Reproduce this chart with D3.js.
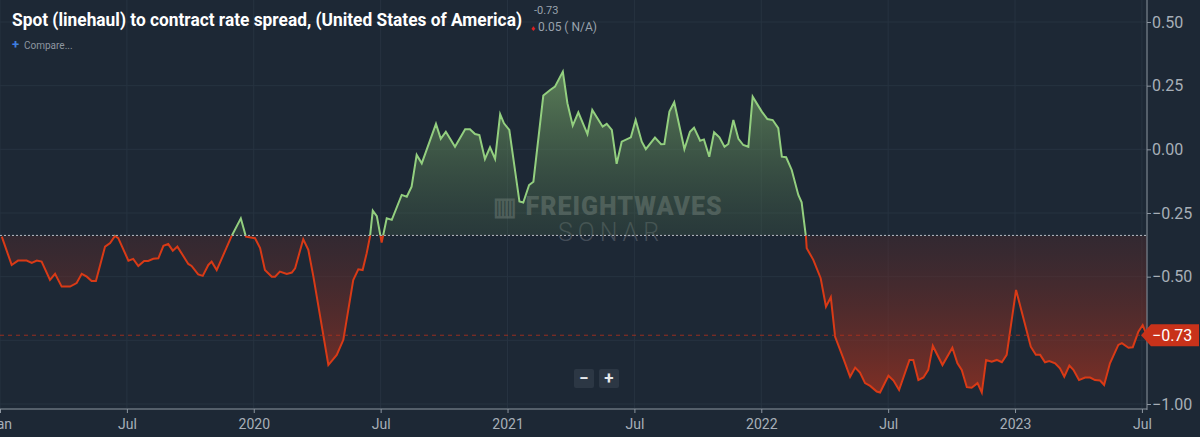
<!DOCTYPE html>
<html><head><meta charset="utf-8">
<script src="https://cdn.jsdelivr.net/npm/d3@7"></script>
<style>html,body{margin:0;padding:0;background:#1d2835;overflow:hidden}</style>
</head><body><svg id="c" width="1200" height="437"></svg>
<script>
const years=[2019.007,2019.046,2019.071,2019.105,2019.125,2019.145,2019.164,2019.197,2019.217,2019.243,2019.276,2019.302,2019.322,2019.342,2019.361,2019.378,2019.414,2019.434,2019.453,2019.466,2019.506,2019.525,2019.545,2019.568,2019.584,2019.604,2019.624,2019.644,2019.663,2019.681,2019.699,2019.742,2019.755,2019.781,2019.799,2019.821,2019.834,2019.854,2019.913,2019.949,2019.969,2020.005,2020.025,2020.044,2020.071,2020.084,2020.103,2020.130,2020.150,2020.163,2020.195,2020.215,2020.235,2020.294,2020.327,2020.353,2020.392,2020.412,2020.429,2020.445,2020.458,2020.469,2020.485,2020.504,2020.524,2020.544,2020.583,2020.603,2020.622,2020.642,2020.662,2020.718,2020.737,2020.757,2020.793,2020.833,2020.852,2020.872,2020.889,2020.911,2020.931,2020.951,2020.971,2020.986,2021.007,2021.047,2021.062,2021.085,2021.102,2021.141,2021.168,2021.187,2021.218,2021.236,2021.257,2021.279,2021.315,2021.334,2021.375,2021.391,2021.411,2021.430,2021.450,2021.486,2021.505,2021.529,2021.545,2021.581,2021.605,2021.618,2021.638,2021.657,2021.697,2021.719,2021.735,2021.759,2021.774,2021.795,2021.814,2021.835,2021.855,2021.870,2021.890,2021.910,2021.929,2021.949,2021.966,2022.002,2022.024,2022.045,2022.067,2022.081,2022.098,2022.120,2022.146,2022.159,2022.176,2022.179,2022.205,2022.234,2022.255,2022.274,2022.291,2022.323,2022.350,2022.370,2022.389,2022.409,2022.429,2022.455,2022.468,2022.501,2022.521,2022.543,2022.584,2022.599,2022.619,2022.639,2022.658,2022.676,2022.714,2022.753,2022.773,2022.790,2022.810,2022.829,2022.852,2022.869,2022.886,2022.908,2022.928,2022.948,2022.967,2023.004,2023.033,2023.062,2023.082,2023.099,2023.118,2023.135,2023.158,2023.177,2023.194,2023.214,2023.230,2023.252,2023.276,2023.296,2023.315,2023.335,2023.351,2023.374,2023.407,2023.421,2023.447,2023.464,2023.486,2023.503,2023.519];
const spread=[-0.343,-0.454,-0.437,-0.437,-0.446,-0.437,-0.441,-0.513,-0.489,-0.539,-0.539,-0.525,-0.489,-0.500,-0.517,-0.517,-0.382,-0.368,-0.340,-0.349,-0.437,-0.430,-0.458,-0.438,-0.438,-0.430,-0.428,-0.379,-0.372,-0.398,-0.382,-0.450,-0.458,-0.491,-0.497,-0.454,-0.441,-0.474,-0.340,-0.271,-0.343,-0.349,-0.388,-0.474,-0.500,-0.500,-0.480,-0.489,-0.484,-0.467,-0.353,-0.395,-0.500,-0.847,-0.807,-0.748,-0.513,-0.471,-0.474,-0.408,-0.343,-0.241,-0.262,-0.366,-0.271,-0.277,-0.179,-0.186,-0.147,-0.022,-0.055,0.100,0.041,0.069,0.010,0.079,0.079,0.060,0.056,-0.038,0.008,-0.038,0.138,0.102,0.076,-0.205,-0.209,-0.140,-0.127,0.211,0.233,0.246,0.305,0.181,0.093,0.145,0.060,0.155,0.089,0.100,0.076,-0.057,0.030,0.047,0.115,0.030,0.001,0.046,0.020,0.021,0.148,0.185,0.001,0.069,0.085,0.034,0.039,-0.029,0.067,0.047,0.010,0.021,0.115,0.041,0.017,0.010,0.207,0.148,0.119,0.115,0.083,-0.029,-0.031,-0.081,-0.179,-0.208,-0.343,-0.388,-0.434,-0.506,-0.618,-0.581,-0.736,-0.820,-0.893,-0.857,-0.877,-0.918,-0.929,-0.951,-0.955,-0.889,-0.908,-0.945,-0.827,-0.827,-0.906,-0.896,-0.866,-0.772,-0.847,-0.779,-0.840,-0.866,-0.934,-0.936,-0.918,-0.955,-0.827,-0.834,-0.827,-0.836,-0.807,-0.552,-0.663,-0.775,-0.807,-0.807,-0.836,-0.831,-0.840,-0.860,-0.893,-0.849,-0.866,-0.906,-0.896,-0.896,-0.906,-0.908,-0.925,-0.840,-0.768,-0.761,-0.779,-0.777,-0.716,-0.690,-0.730];
const baselineValue=-0.338, currentValue=-0.73;
const yTicks=[0.5,0.25,0,-0.25,-0.5,-0.75,-1.0];
const yTickLabelsShown=[0.5,0.25,0,-0.25,-0.5,-1.0];
const xTicks=[2019,2019.5,2020,2020.5,2021,2021.5,2022,2022.5,2023,2023.5];
const xTickLabels=["Jan","Jul","2020","Jul","2021","Jul","2022","Jul","2023","Jul"];
const data=years.map((t,i)=>({t,v:spread[i]}));

const svg=d3.select("#c");
const W=1147;
const x=d3.scaleLinear().domain([2019,2023.52]).range([0,W]);
const y=d3.scaleLinear().domain([-1,0.5]).range([404,22]);
const font="Roboto, 'Liberation Sans', sans-serif";

svg.append("rect").attr("width",1200).attr("height",437).attr("fill","#1d2835");
const defs=svg.append("defs");
const gG=defs.append("linearGradient").attr("id","gg").attr("x1",0).attr("x2",0).attr("gradientUnits","userSpaceOnUse").attr("y1",y(0.31)).attr("y2",y(baselineValue));
gG.append("stop").attr("offset",0).attr("stop-color","#6f9a63").attr("stop-opacity",0.75);
gG.append("stop").attr("offset",1).attr("stop-color","#4a6a4a").attr("stop-opacity",0.25);
const gR=defs.append("linearGradient").attr("id","gr").attr("x1",0).attr("x2",0).attr("gradientUnits","userSpaceOnUse").attr("y1",y(baselineValue)).attr("y2",y(-0.96));
gR.append("stop").attr("offset",0).attr("stop-color","#5a2a2a").attr("stop-opacity",0.35);
gR.append("stop").attr("offset",1).attr("stop-color","#a8321e").attr("stop-opacity",0.7);
defs.append("clipPath").attr("id","above").append("rect").attr("x",0).attr("y",0).attr("width",W).attr("height",y(baselineValue));
defs.append("clipPath").attr("id","below").append("rect").attr("x",0).attr("y",y(baselineValue)).attr("width",W).attr("height",437);

svg.append("g").selectAll("line").data(yTicks).join("line")
 .attr("x1",0).attr("x2",W).attr("y1",d=>y(d)).attr("y2",d=>y(d)).attr("stroke","#273340").attr("stroke-width",1);
svg.append("g").selectAll("line").data(xTicks).join("line")
 .attr("x1",d=>x(d)).attr("x2",d=>x(d)).attr("y1",0).attr("y2",408).attr("stroke","#273340").attr("stroke-width",1);

svg.append("text").attr("x",608).attr("y",215).attr("text-anchor","middle").attr("font-family",font).attr("font-size",25).attr("font-weight",900).attr("fill","#8a8f96").attr("opacity",0.45).attr("letter-spacing",1).text("▥ FREIGHTWAVES");
svg.append("text").attr("x",611).attr("y",241).attr("text-anchor","middle").attr("font-family",font).attr("font-size",25).attr("font-weight",300).attr("fill","#8a8f96").attr("opacity",0.35).attr("letter-spacing",5).text("SONAR");

const area=d3.area().x(d=>x(d.t)).y0(y(baselineValue)).y1(d=>y(d.v));
const line=d3.line().x(d=>x(d.t)).y(d=>y(d.v));
svg.append("path").datum(data).attr("d",area).attr("fill","url(#gg)").attr("clip-path","url(#above)");
svg.append("path").datum(data).attr("d",area).attr("fill","url(#gr)").attr("clip-path","url(#below)");
svg.append("path").datum(data).attr("d",line).attr("fill","none").attr("stroke","#93cf7f").attr("stroke-width",2).attr("clip-path","url(#above)");
svg.append("path").datum(data).attr("d",line).attr("fill","none").attr("stroke","#d93a16").attr("stroke-width",2).attr("clip-path","url(#below)");

svg.append("line").attr("x1",0).attr("x2",W).attr("y1",y(baselineValue)).attr("y2",y(baselineValue)).attr("stroke","#b8bec6").attr("stroke-dasharray","2,2").attr("stroke-width",1);
svg.append("line").attr("x1",0).attr("x2",W).attr("y1",y(currentValue)).attr("y2",y(currentValue)).attr("stroke","#b8321c").attr("stroke-dasharray","4,4").attr("stroke-width",1).attr("opacity",0.8);

const ya=svg.append("g").attr("transform",`translate(${W},0)`).call(d3.axisRight(y).tickValues(yTicks).tickFormat(d=>yTickLabelsShown.includes(d)?d3.format(".2f")(d).replace("-","−"):"").tickSize(4).tickSizeOuter(0));
ya.select(".domain").attr("stroke","#8d96a0").attr("d","M0,0V410");
ya.selectAll(".tick line").attr("stroke","#8d96a0");
ya.selectAll("text").attr("fill","#a7afb8").attr("font-family",font).attr("font-size",16).attr("x",5);
const xa=svg.append("g").attr("transform","translate(0,409)").call(d3.axisBottom(x).tickValues(xTicks).tickFormat((d,i)=>xTickLabels[i]).tickSize(4).tickSizeOuter(0));
xa.select(".domain").attr("stroke","#8d96a0").attr("d",`M0,0H${W}`);
xa.selectAll(".tick line").attr("stroke","#8d96a0");
xa.selectAll("text").attr("fill","#a7afb8").attr("font-family",font).attr("font-size",14).attr("dy","0.9em");

const cy=y(currentValue);
svg.append("path").attr("d",`M${W-6},${cy} L${W+4},${cy-11} H1199 V${cy+11} H${W+4} Z`).attr("fill","#c8321a");
svg.append("text").attr("x",1152).attr("y",cy+6).attr("fill","#fff").attr("font-family",font).attr("font-size",16).text("−0.73");

[["−",584],["+",609]].forEach(([s,cx])=>{
 svg.append("rect").attr("x",cx-10).attr("y",369).attr("width",20).attr("height",19).attr("rx",2).attr("fill","#2c3744");
 svg.append("text").attr("x",cx).attr("y",384).attr("text-anchor","middle").attr("fill","#e6e9ec").attr("font-family",font).attr("font-size",17).attr("font-weight",700).text(s);
});

svg.append("text").attr("x",12).attr("y",26).attr("fill","#ffffff").attr("font-family",font).attr("font-weight",700).attr("font-size",19).attr("textLength",510).attr("lengthAdjust","spacingAndGlyphs").text("Spot (linehaul) to contract rate spread, (United States of America)");
svg.append("text").attr("x",534).attr("y",14).attr("fill","#9aa3ad").attr("font-family",font).attr("font-size",11).text("-0.73");
svg.append("text").attr("x",531).attr("y",31).attr("fill","#e02020").attr("font-family",font).attr("font-size",8).text("♦");
svg.append("text").attr("x",538).attr("y",31).attr("fill","#9aa3ad").attr("font-family",font).attr("font-size",12).text("0.05 ( N/A)");
svg.append("text").attr("x",12).attr("y",49).attr("fill","#3f7fe0").attr("font-family",font).attr("font-size",13).attr("font-weight",700).text("+");
svg.append("text").attr("x",24).attr("y",49).attr("fill","#8d96a0").attr("font-family",font).attr("font-size",10).text("Compare...");
</script></body></html>
